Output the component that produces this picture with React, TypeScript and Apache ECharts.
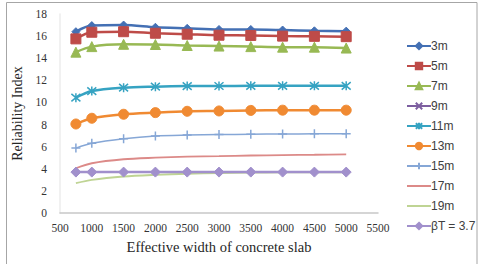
import React, { useEffect, useRef } from "react";
import * as echarts from "echarts";

// Effective width of the concrete slab (mm)
const widths = [750, 1000, 1500, 2000, 2500, 3000, 3500, 4000, 4500, 5000];

// Reliability index per span length
const span3m = [16.4, 16.95, 17.0, 16.8, 16.7, 16.6, 16.6, 16.55, 16.48, 16.45];
const span5m = [15.75, 16.35, 16.4, 16.26, 16.17, 16.08, 16.06, 16.0, 15.98, 15.95];
const span7m = [14.55, 15.05, 15.26, 15.24, 15.15, 15.1, 15.05, 15.0, 15.0, 14.92];
const span9m: number[] = [];
const span11m = [10.43, 11.03, 11.34, 11.43, 11.48, 11.49, 11.5, 11.5, 11.5, 11.5];
const span13m = [8.05, 8.57, 8.93, 9.08, 9.2, 9.23, 9.28, 9.3, 9.3, 9.3];
const span15m = [5.87, 6.3, 6.72, 6.97, 7.05, 7.09, 7.13, 7.15, 7.16, 7.17];
const span17m = [4.05, 4.5, 4.86, 5.0, 5.1, 5.15, 5.2, 5.24, 5.27, 5.3];
const span19m = [2.7, 3.0, 3.3, 3.45, 3.55, 3.6, 3.65, 3.67, 3.68, 3.68];
const targetBeta = [3.7, 3.7, 3.7, 3.7, 3.7, 3.7, 3.7, 3.7, 3.7, 3.7];

const xTicks = { min: 500, max: 5500, step: 500 };
const yTicks = { min: 0, max: 18, step: 2 };

const serif = "'Liberation Serif', 'Times New Roman', serif";
const sans = "'Liberation Sans', Arial, sans-serif";

const pairs = (ys: number[]) => ys.map((y, i) => [widths[i], y]);

const SYM_X = "path://M0,0L10,10M10,0L0,10";
const SYM_STAR = "path://M0,0L10,10M10,0L0,10M5,-1L5,11";
const SYM_PLUS = "path://M5,0L5,10M0,5L10,5";
const LEGEND_BAR = "path://M0,0L24,0L24,2L0,2Z";

export default function App() {
  const ref = useRef<HTMLDivElement>(null);

  useEffect(() => {
    if (!ref.current) return;
    const chart = echarts.init(ref.current, undefined, { renderer: "svg" });

    const mk = (
      name: string,
      data: number[],
      color: string,
      symbol: string,
      symbolSize: number,
      width: number,
      stroked = false
    ) => ({
      name,
      type: "line",
      data: pairs(data),
      smooth: 0.3,
      symbol,
      symbolSize,
      showSymbol: symbol !== "none",
      lineStyle: { color, width },
      itemStyle: stroked
        ? { color: "rgba(0,0,0,0)", borderColor: color, borderWidth: 1.5 }
        : { color, borderColor: color, borderWidth: 1 },
      color,
      emphasis: { disabled: true },
    });

    const plain = (name: string, color: string) => ({
      name,
      icon: LEGEND_BAR,
      itemStyle: { color, borderWidth: 0 },
    });

    chart.setOption({
      animation: false,
      backgroundColor: "#ffffff",
      graphic: [
        {
          type: "rect",
          shape: { x: 6.5, y: 2.5, width: 470.5, height: 270 },
          style: { fill: "none", stroke: "#a6a6a6", lineWidth: 1 },
          silent: true,
        },
      ],
      grid: { left: 60, right: 104, top: 14, bottom: 51, containLabel: false },
      legend: {
        orient: "vertical",
        left: 401,
        top: 35,
        itemWidth: 24,
        itemHeight: 8,
        itemGap: 8,
        textStyle: { fontFamily: sans, fontSize: 12, color: "#404040", padding: [0, 0, 0, -5] },
        data: [
          "3m",
          "5m",
          "7m",
          "9m",
          "11m",
          "13m",
          "15m",
          plain("17m", "#dc8a88"),
          plain("19m", "#bfd494"),
          "βT = 3.7",
        ],
      },
      xAxis: {
        type: "value",
        min: xTicks.min,
        max: xTicks.max,
        interval: xTicks.step,
        name: "Effective width of concrete slab",
        nameLocation: "middle",
        nameGap: 26,
        nameTextStyle: { fontFamily: serif, fontSize: 14.5, color: "#262626" },
        axisLine: { show: true, lineStyle: { color: "#c8c8c8", width: 1.5 } },
        axisTick: { show: false },
        splitLine: { show: false },
        axisLabel: {
          fontFamily: serif,
          fontSize: 11.5,
          color: "#333",
          margin: 9,
          formatter: (v: number) => String(v),
        },
      },
      yAxis: {
        type: "value",
        min: yTicks.min,
        max: yTicks.max,
        interval: yTicks.step,
        name: "Reliability Index",
        nameLocation: "middle",
        nameGap: 27,
        nameTextStyle: { fontFamily: serif, fontSize: 14, color: "#262626" },
        axisLine: { show: true, lineStyle: { color: "#ececec", width: 1.5 } },
        axisTick: { show: false },
        splitLine: { show: false },
        axisLabel: { fontFamily: serif, fontSize: 11.5, color: "#333", margin: 13 },
      },
      series: [
        mk("3m", span3m, "#4470b4", "diamond", 8, 2.5),
        mk("5m", span5m, "#be4b48", "rect", 10, 2.5),
        mk("7m", span7m, "#98b954", "triangle", 10, 2.5),
        mk("9m", span9m, "#7d5fa0", SYM_X, 8, 2.5, true),
        mk("11m", span11m, "#36a3c2", SYM_STAR, 9, 2.5, true),
        mk("13m", span13m, "#f08a32", "circle", 10, 2.5),
        mk("15m", span15m, "#86a7d6", SYM_PLUS, 9, 1.5, true),
        mk("17m", span17m, "#dc8a88", "none", 0, 1.8),
        mk("19m", span19m, "#bfd494", "none", 0, 1.8),
        mk("βT = 3.7", targetBeta, "#a190cc", "diamond", 10, 2.5),
      ],
    });

    return () => chart.dispose();
  }, []);

  return (
    <div
      ref={ref}
      style={{ position: "fixed", left: 0, top: 0, width: 482, height: 264, background: "#fff" }}
    />
  );
}
